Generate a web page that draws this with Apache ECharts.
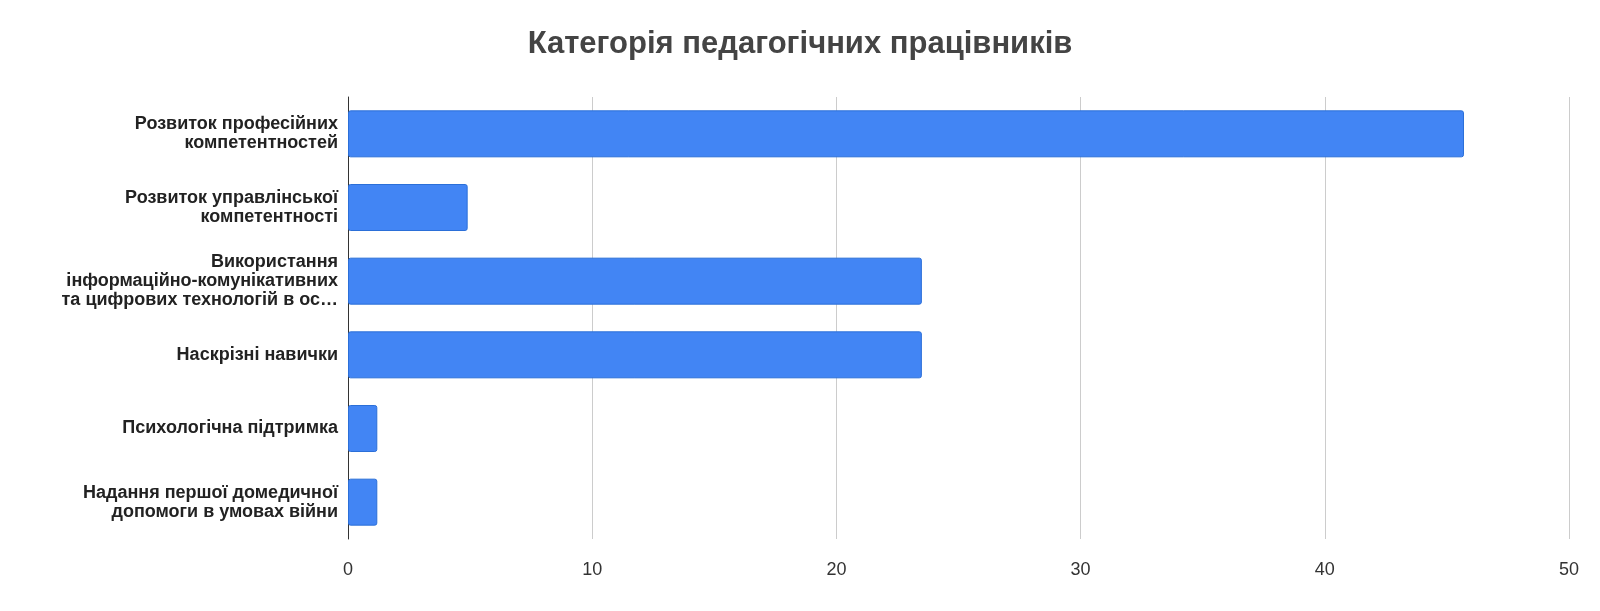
<!DOCTYPE html>
<html><head><meta charset="utf-8">
<script src="https://cdn.jsdelivr.net/npm/echarts@6/dist/echarts.min.js"></script>
<style>html,body{margin:0;padding:0;background:#fff}#c{width:1600px;height:611px}</style>
</head><body><div id="c"></div>
<script>
const categories = [
  "Розвиток професійних\nкомпетентностей",
  "Розвиток управлінської\nкомпетентності",
  "Використання\nінформаційно-комунікативних\nта цифрових технологій в ос…",
  "Наскрізні навички",
  "Психологічна підтримка",
  "Надання першої домедичної\nдопомоги в умовах війни"
];
const values = [45.7, 4.9, 23.5, 23.5, 1.2, 1.2];
const chart = echarts.init(document.getElementById('c'));
chart.setOption({
  title: {text: "Категорія педагогічних працівників", left: 'center', top: 24,
    textStyle: {fontFamily: 'Liberation Sans', fontSize: 31, fontWeight: 'bold', color: '#444'}},
  grid: {left: 348, right: 31, top: 97, bottom: 72},
  xAxis: {type: 'value', min: 0, max: 50, interval: 10,
    axisLine: {show: false}, axisTick: {show: false},
    splitLine: {lineStyle: {color: '#ccc', width: 1}},
    axisLabel: {fontFamily: 'Liberation Sans', fontSize: 18, color: '#333', margin: 22}},
  yAxis: {type: 'category', inverse: true, data: categories,
    axisLine: {lineStyle: {color: '#333'}}, axisTick: {show: false},
    axisLabel: {fontFamily: 'Liberation Sans', fontSize: 18, fontWeight: 'bold', color: '#222', lineHeight: 19, margin: 10}},
  series: [{type: 'bar', data: values, barWidth: 47,
    itemStyle: {color: '#4285f4', borderColor: '#2b6fd8', borderWidth: 1, borderRadius: 2}}]
});
</script></body></html>
